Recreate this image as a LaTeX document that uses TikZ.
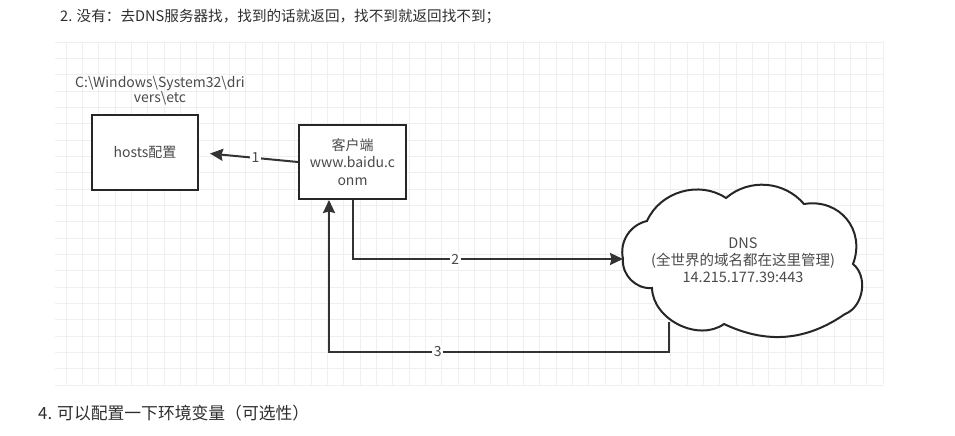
\documentclass[tikz,border=0pt]{standalone}
\usepackage{fontspec}
\setmainfont{Noto Sans CJK SC}
\usetikzlibrary{arrows.meta,calc}
\definecolor{gridc}{HTML}{EFEFEF}
\definecolor{boxc}{HTML}{262626}
\definecolor{linec}{HTML}{333333}
\definecolor{dtext}{HTML}{4A4A4A}
\definecolor{ptext}{HTML}{2E2E2E}
\tikzset{
  stepbox/.style={draw=boxc, line width=2pt, fill=white, inner sep=0pt, align=center,
    text=dtext, font=\fontsize{14}{17.5}\selectfont},
  conn/.style={draw=linec, line width=2pt, -{Stealth[length=13pt,width=12pt,inset=1.5pt]}},
  lbl/.style={fill=white, inner sep=1.5pt, text=dtext, font=\fontsize{14}{16}\selectfont},
  pagetext/.style={text=ptext, anchor=west, inner sep=0pt},
}
\begin{document}
\begin{tikzpicture}[x=1pt,y=-1pt]
\useasboundingbox (0,0) rectangle (955,436);
% grid
\foreach \i in {0,...,50} {\draw[gridc, line width=0.8pt] ({66+16.34*\i},42) -- ({66+16.34*\i},385);}
\foreach \j in {0,...,21} {\draw[gridc, line width=0.8pt] (55,{42+16.33*\j}) -- (883,{42+16.33*\j});}
% page text
\node[pagetext, font=\fontsize{14.6}{18}\selectfont] (t2) at (60,17) {2. 没有：去DNS服务器找，找到的话就返回，找不到就返回找不到；};
\node[pagetext, font=\fontsize{16.8}{19}\selectfont] (t4) at (38,413) {4. 可以配置一下环境变量（可选性）};
% path label
\node[text=dtext, align=center, inner sep=0pt, font=\fontsize{14}{15.5}\selectfont] (path) at (160,90.5) {C:\textbackslash Windows\textbackslash System32\textbackslash dri\\vers\textbackslash etc};
% boxes
\node[stepbox, minimum width=106pt, minimum height=75pt] (hosts) at (145,152.5) {hosts配置};
\node[stepbox, minimum width=107pt, minimum height=74pt] (client) at (352.5,162) {客户端\\www.baidu.c\\onm};
% cloud
\coordinate (dnsL) at (623,259);
\coordinate (dnsB) at (669,322);
\draw[draw=boxc, line width=2pt, fill=white] (dnsL) to[bend left=45] (647,221) to[bend left=50] (726,198)
  to[bend left=45] (804,204) to[bend left=60, looseness=1.2] (853,264) to[bend left=60] (845,314)
  to[bend left=30] (724,324) to[bend left=62] (652,288) to[bend left=50] (dnsL) -- cycle;
\node[text=dtext, align=center, inner sep=0pt, font=\fontsize{14.5}{17}\selectfont] (dns) at (743,260) {DNS\\(全世界的域名都在这里管理)\\14.215.177.39:443};
% connectors
\coordinate (c3) at ($(client.south)+(-23.5,0)$);
\draw[conn, shorten >=11pt] (client.west) -- node[lbl, pos=0.43] {1} (hosts.east);
\draw[conn] (client.south) |- node[lbl, pos=0.69] {2} (dnsL);
\draw[conn] (dnsB) -- ++(0,30) -| node[lbl, pos=0.34] {3} (c3);
\end{tikzpicture}
\end{document}
